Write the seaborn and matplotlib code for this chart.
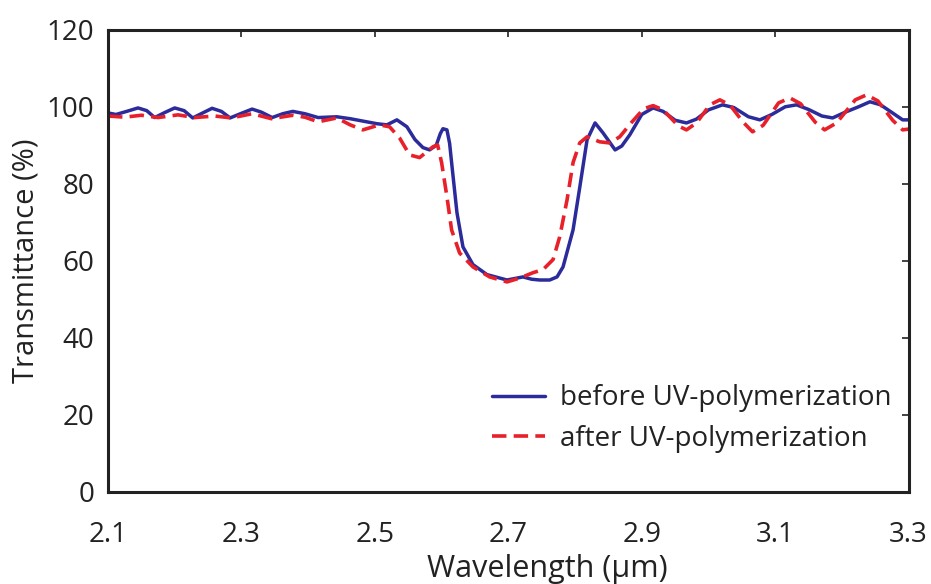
import numpy as np
import pandas as pd
import seaborn as sns
import matplotlib.pyplot as plt

# values
wl_before = [2.100, 2.112, 2.128, 2.145, 2.158, 2.170, 2.185, 2.200, 2.214, 2.227,
             2.242, 2.256, 2.270, 2.283, 2.300, 2.316, 2.330, 2.346, 2.362, 2.377,
             2.395, 2.415, 2.443, 2.463, 2.503, 2.518, 2.533, 2.548, 2.560, 2.572,
             2.582, 2.592, 2.598, 2.602, 2.608, 2.612, 2.615, 2.623, 2.632, 2.647,
             2.668, 2.698, 2.722, 2.735, 2.747, 2.762, 2.773, 2.782, 2.797, 2.807,
             2.818, 2.830, 2.842, 2.860, 2.870, 2.882, 2.900, 2.917, 2.932, 2.950,
             2.967, 2.982, 3.000, 3.021, 3.038, 3.060, 3.077, 3.095, 3.115, 3.132,
             3.150, 3.170, 3.186, 3.205, 3.225, 3.242, 3.258, 3.275, 3.291, 3.300]
tr_before = [98.4, 98.0, 98.8, 99.7, 99.0, 97.2, 98.5, 99.7, 99.0, 97.1,
             98.4, 99.6, 98.8, 97.1, 98.3, 99.4, 98.6, 97.2, 98.2, 98.8,
             98.2, 97.2, 97.4, 96.9, 95.6, 95.3, 96.6, 94.8, 91.5, 89.4,
             88.8, 90.0, 93.0, 94.3, 94.0, 90.5, 85.5, 72.5, 63.6, 59.0,
             56.4, 55.0, 55.8, 55.2, 55.0, 55.0, 55.8, 58.4, 68.0, 79.0,
             91.4, 95.8, 93.2, 88.8, 89.8, 92.7, 98.0, 99.7, 98.8, 96.5,
             95.8, 96.8, 99.2, 100.5, 99.8, 97.4, 96.6, 98.0, 100.0, 100.5,
             99.3, 97.6, 97.1, 98.6, 100.0, 101.3, 100.5, 98.5, 96.6, 96.6]

wl_after = [2.100, 2.125, 2.150, 2.175, 2.205, 2.230, 2.260, 2.285, 2.316, 2.345,
            2.377, 2.395, 2.415, 2.443, 2.463, 2.482, 2.507, 2.522, 2.537, 2.552,
            2.567, 2.587, 2.594, 2.600, 2.608, 2.615, 2.627, 2.647, 2.672, 2.698,
            2.717, 2.737, 2.752, 2.767, 2.777, 2.788, 2.797, 2.807, 2.818, 2.837,
            2.852, 2.867, 2.885, 2.903, 2.917, 2.932, 2.955, 2.967, 2.982, 3.002,
            3.017, 3.032, 3.052, 3.066, 3.082, 3.105, 3.122, 3.138, 3.160, 3.174,
            3.192, 3.220, 3.237, 3.254, 3.276, 3.291, 3.300]
tr_after = [97.6, 97.3, 97.8, 97.2, 97.9, 97.2, 97.6, 97.1, 98.2, 96.9,
            97.8, 97.3, 96.1, 97.1, 95.3, 94.0, 95.3, 94.8, 91.9, 87.5,
            86.8, 89.6, 90.1, 85.5, 76.6, 68.0, 62.0, 58.4, 55.8, 54.5,
            55.5, 56.9, 57.7, 60.3, 66.2, 75.8, 85.5, 90.6, 92.2, 90.9,
            90.6, 92.2, 96.0, 99.5, 100.3, 99.2, 95.0, 94.0, 95.8, 100.5,
            101.8, 100.5, 96.0, 93.5, 95.2, 101.0, 102.3, 100.8, 96.0, 94.0,
            95.8, 101.8, 103.1, 101.5, 96.5, 94.0, 94.2]

x_ticks = [2.1, 2.3, 2.5, 2.7, 2.9, 3.1, 3.3]
y_ticks = [0, 20, 40, 60, 80, 100, 120]

before = pd.DataFrame({'wl': wl_before, 'T': tr_before})
after = pd.DataFrame({'wl': wl_after, 'T': tr_after})

sns.set_style('white')
plt.rcParams['font.family'] = ['Open Sans', 'DejaVu Sans']

fig = plt.figure(figsize=(9.31, 5.84), dpi=100)
ax = fig.add_axes([0.116, 0.158, 0.860, 0.791])

sns.lineplot(data=before, x='wl', y='T', ax=ax, color='#2b2b9b', lw=2.5,
             label='before UV-polymerization', sort=False)
sns.lineplot(data=after, x='wl', y='T', ax=ax, color='#e8202a', lw=2.6,
             label='after UV-polymerization', sort=False)
ax.lines[1].set_dashes((4, 2))

ax.set_xlim(2.1, 3.3)
ax.set_ylim(0, 120)
ax.set_xticks(x_ticks)
ax.set_xticklabels([str(t) for t in x_ticks])
ax.set_yticks(y_ticks)
ax.tick_params(direction='in', top=True, right=True, length=5, width=1.2,
               labelsize=20, colors='#222222', pad=10)
ax.tick_params(axis='x', pad=21)
for s in ax.spines.values():
    s.set_linewidth(2.2)
    s.set_color('#222222')

ax.set_xlabel('Wavelength (µm)', fontsize=22, color='#222222', labelpad=10)
ax.xaxis.set_label_coords(0.549, -0.135)
ax.xaxis.label.set_va('top')
ax.set_ylabel('Transmittance (%)', fontsize=21, color='#222222', labelpad=4)

leg = ax.legend(loc='lower right', bbox_to_anchor=(1.01, 0.03), frameon=False,
                fontsize=20, handlelength=1.9, labelspacing=0.45, handletextpad=0.55)
for t in leg.get_texts():
    t.set_color('#222222')
leg.get_lines()[1].set_dashes((4, 2))

fig.savefig('out.png', dpi=100)
